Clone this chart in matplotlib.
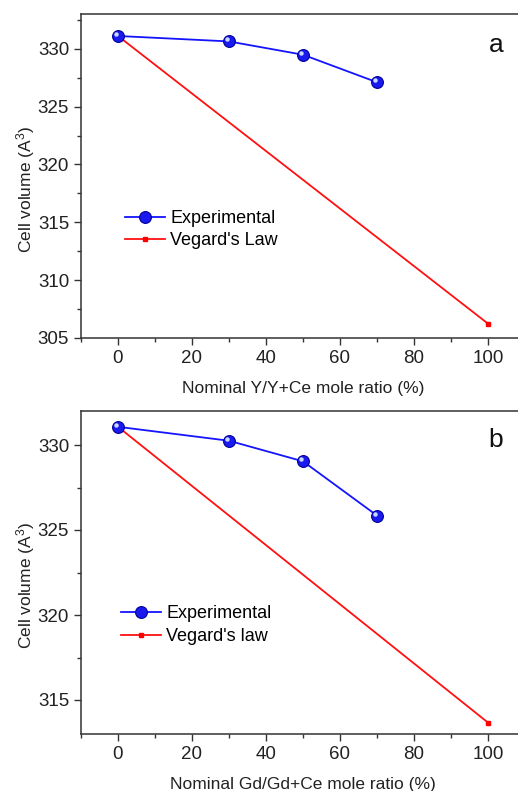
import matplotlib
matplotlib.use("Agg")
import matplotlib.pyplot as plt
from matplotlib.ticker import MultipleLocator
from matplotlib.transforms import offset_copy

plt.rcParams['font.family'] = ['Liberation Sans', 'DejaVu Sans']
plt.rcParams['mathtext.fontset'] = 'custom'
plt.rcParams['mathtext.rm'] = 'Liberation Sans'
plt.rcParams['mathtext.it'] = 'Liberation Sans:italic'

# Panel a data
x_exp_a = [0, 30, 50, 70]
y_exp_a = [331.1, 330.63, 329.48, 327.1]
x_veg_a = [0, 100]
y_veg_a = [331.1, 306.24]

# Panel b data
x_exp_b = [0, 30, 50, 70]
y_exp_b = [331.07, 330.25, 329.04, 325.85]
x_veg_b = [0, 100]
y_veg_b = [331.07, 313.67]

xticks = [0, 20, 40, 60, 80, 100]
xlabel_a = "Nominal Y/Y+Ce mole ratio (%)"
xlabel_b = "Nominal Gd/Gd+Ce mole ratio (%)"
ylabel = "Cell volume (A$^3$)"
leg_a = ["Experimental", "Vegard's Law"]
leg_b = ["Experimental", "Vegard's law"]

W, H = 518, 791
fig = plt.figure(figsize=(W / 100, H / 100), dpi=100)

def px_axes(l, t, r, b):
    return fig.add_axes([l / W, 1 - b / H, (r - l) / W, (b - t) / H])

ax_a = px_axes(81, 14, 525, 338)
ax_b = px_axes(81, 411, 525, 734)

def style(ax, ylim, ymajor, xlabel, letter, letter_y, ylab_y,
          xe, ye, xv, yv, labels, leg_anchor):
    l1, = ax.plot(xe, ye, color='#1414ff', lw=1.3, marker='o', ms=8.5,
                  markerfacecolor='#1a1aee', markeredgecolor='#00009a', mew=0.8,
                  label=labels[0], zorder=3)
    # specular highlight of the sphere-like markers
    tr = offset_copy(ax.transData, fig=fig, x=-1.2, y=1.4, units='points')
    ax.plot(xe, ye, ls='none', marker='o', ms=3.2, markerfacecolor='#c8d8ff',
            markeredgecolor='none', transform=tr, zorder=4)
    l2, = ax.plot(xv, yv, color='#ff1010', lw=1.3, marker='s', ms=3,
                  markerfacecolor='#ff0000', markeredgecolor='#ff0000',
                  label=labels[1], zorder=2)
    ax.set_xlim(-10, 110)
    ax.set_ylim(*ylim)
    ax.set_xticks(xticks)
    ax.xaxis.set_minor_locator(MultipleLocator(10))
    ax.yaxis.set_major_locator(MultipleLocator(ymajor))
    ax.yaxis.set_minor_locator(MultipleLocator(ymajor / 2))
    ax.tick_params(axis='both', which='major', direction='out', length=5,
                   width=1.0, labelsize=13.5, color='#333333', labelcolor='#222222')
    ax.tick_params(axis='both', which='minor', direction='out', length=3,
                   width=1.0, color='#333333')
    for s in ax.spines.values():
        s.set_linewidth(1.1)
        s.set_color('#333333')
    ax.set_xlabel(xlabel, fontsize=12.5, color='#222222', labelpad=10)
    ax.set_ylabel(ylabel, fontsize=12.5, color='#222222')
    ax.yaxis.set_label_coords(-0.10, ylab_y)
    ax.text(0.935, letter_y, letter, transform=ax.transAxes, fontsize=19,
            ha='center', va='center', color='#111111')
    ax.legend([l1, l2], labels, loc='center left', bbox_to_anchor=leg_anchor,
              frameon=False, fontsize=13, handlelength=2.2, handletextpad=0.3,
              labelspacing=0.3, borderpad=0.0, borderaxespad=0.0)

style(ax_a, (305, 333), 5, xlabel_a, 'a', 0.905, 0.457,
      x_exp_a, y_exp_a, x_veg_a, y_veg_a, leg_a, (0.099, 0.334))
style(ax_b, (313, 332), 5, xlabel_b, 'b', 0.91, 0.46,
      x_exp_b, y_exp_b, x_veg_b, y_veg_b, leg_b, (0.09, 0.337))

fig.savefig("out.png", dpi=100)
